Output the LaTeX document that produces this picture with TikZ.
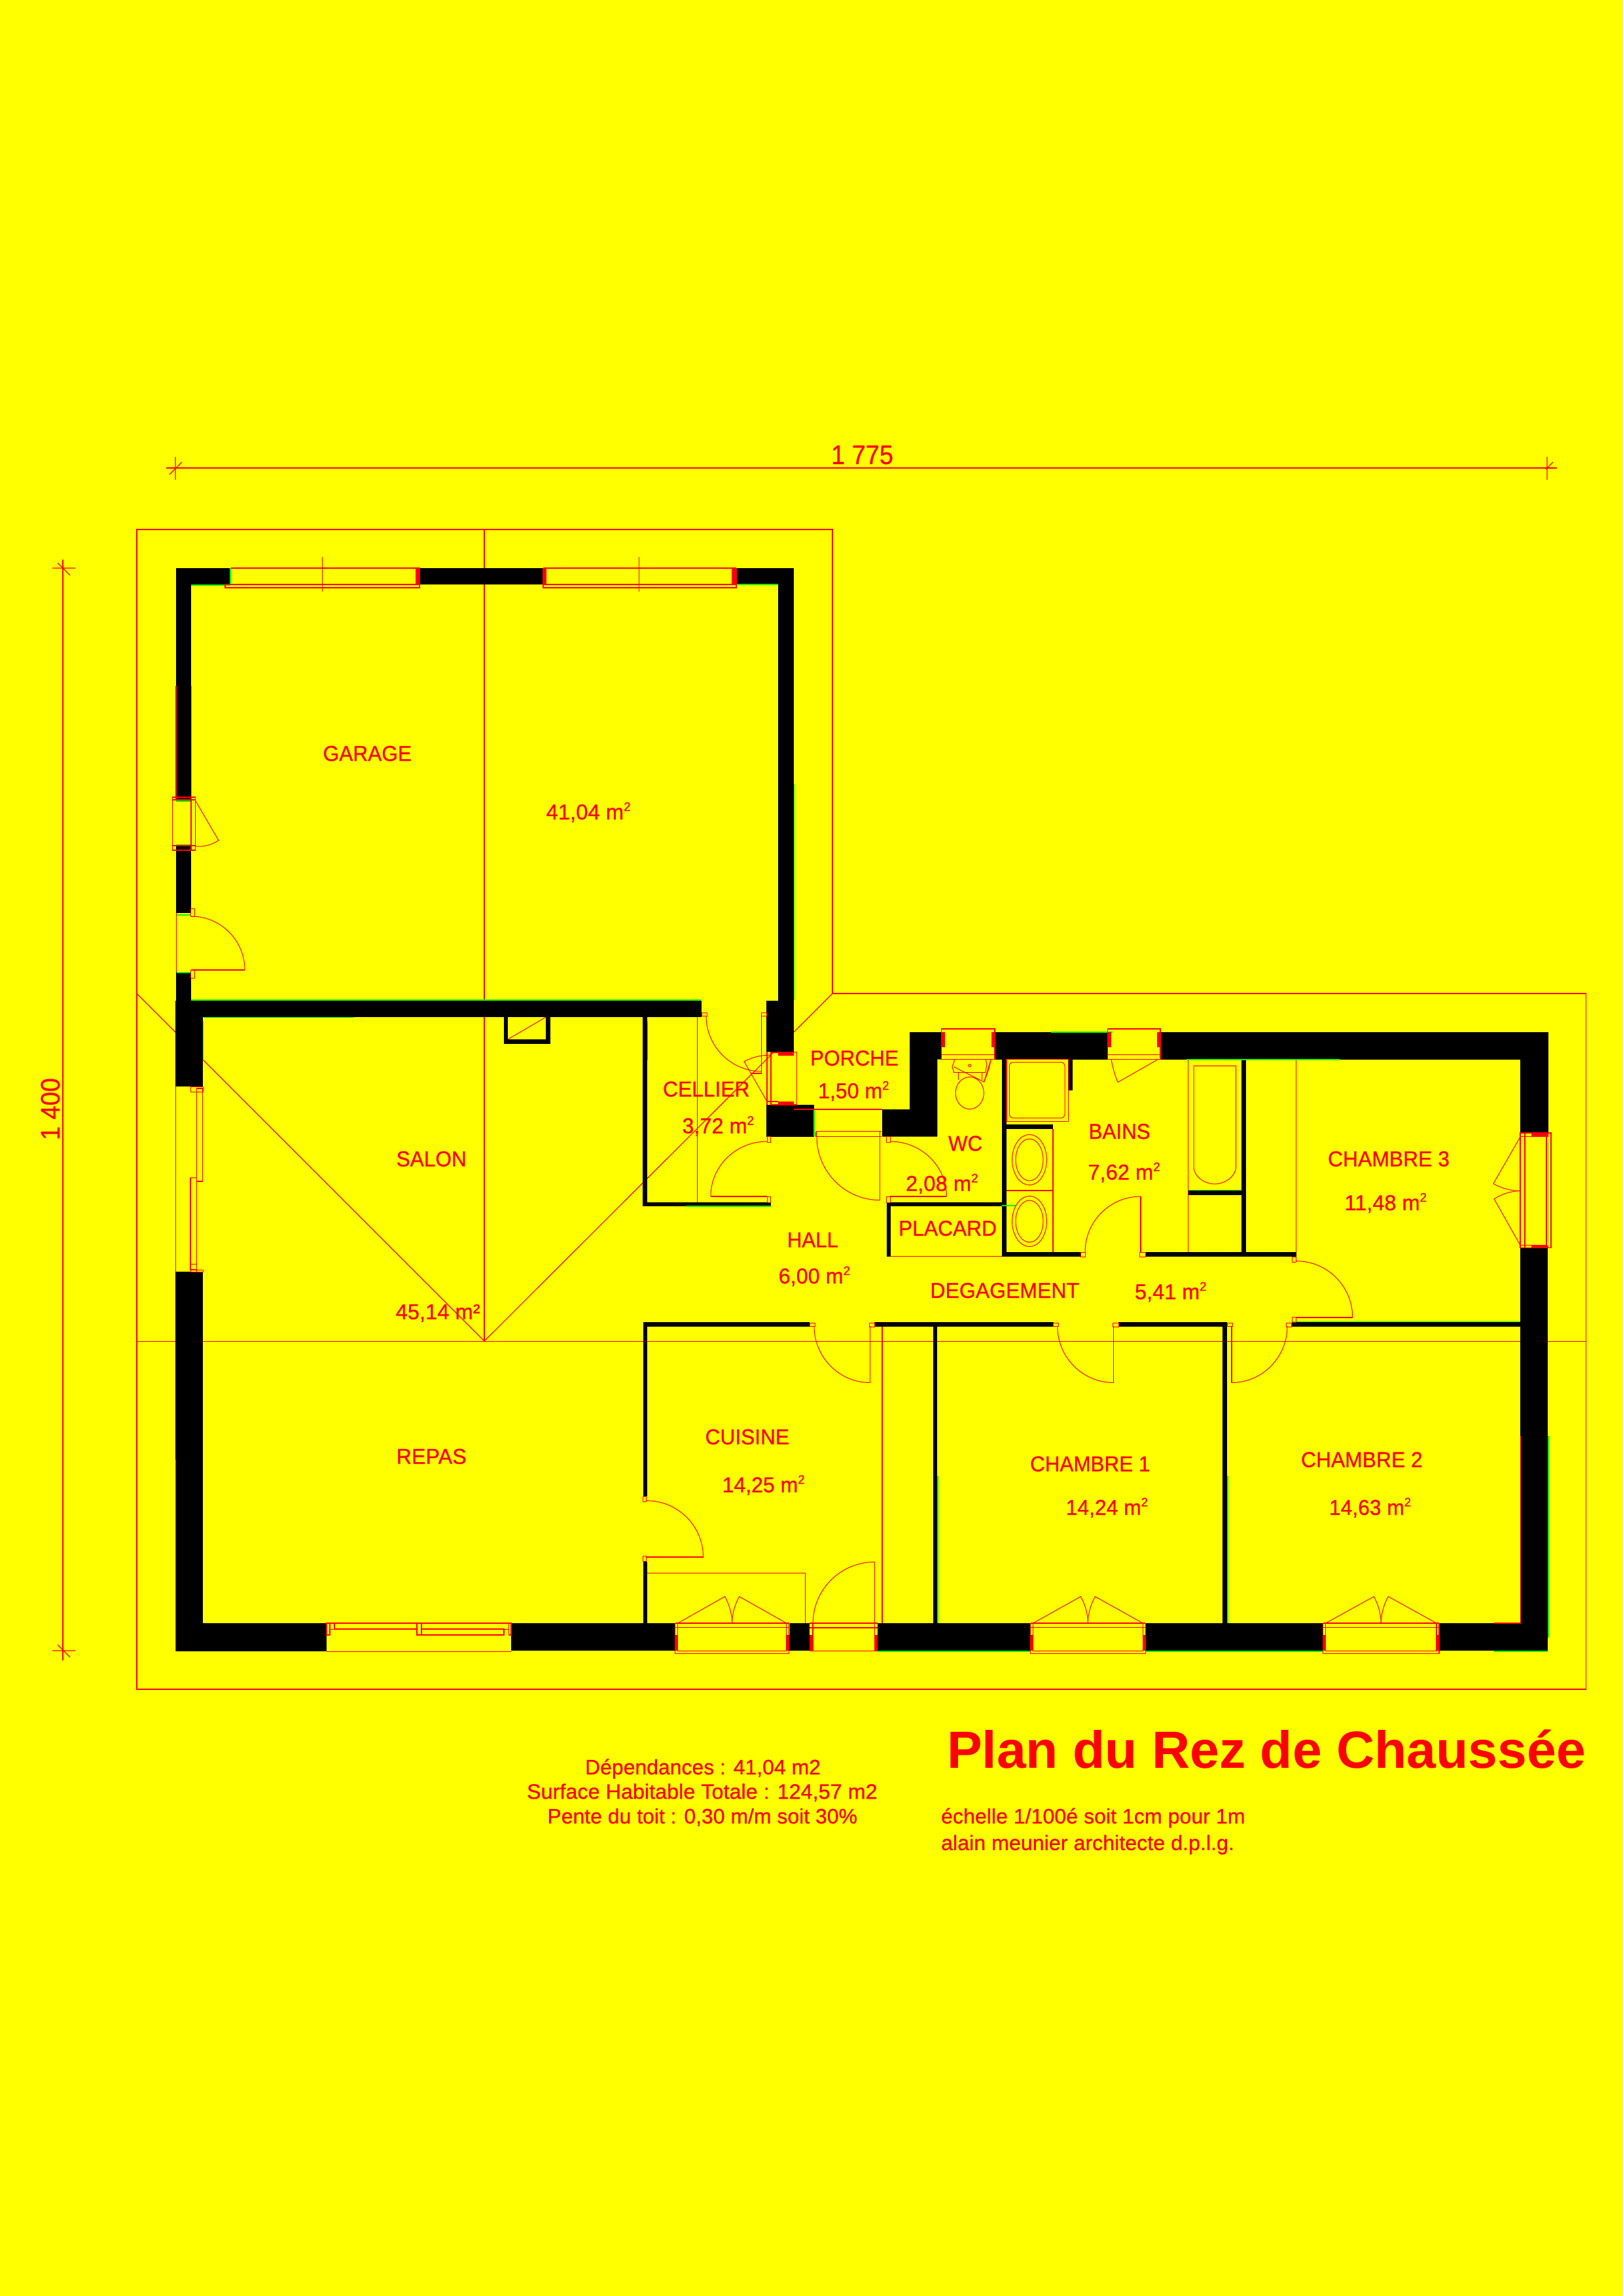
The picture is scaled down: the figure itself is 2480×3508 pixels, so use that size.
\documentclass[tikz,border=0pt]{standalone}
\usepackage{graphicx}
\usepackage{fontspec}
\setmainfont{Liberation Sans}[FakeBold=0.6,BoldFeatures={FakeBold=0}]
\definecolor{pagey}{rgb}{1,1,0}
\definecolor{cadred}{rgb}{1,0,0}
\definecolor{cadgreen}{rgb}{0,1,0}
\tikzset{
  ln/.style={draw=cadred,line width=1.15pt},
  hair/.style={draw=cadred,line width=1pt},
  grn/.style={draw=cadgreen,line width=1.6pt},
  wallfill/.style={fill=black,draw=none},
  redfill/.style={fill=cadred,draw=none},
  lbl/.style={anchor=base west,inner sep=0pt,outer sep=0pt,text=cadred},
}
% wall rectangle, red jamb, plain red rectangle
\newcommand\wl[4]{\fill[wallfill] (#1,#2) rectangle (#3,#4);}
\newcommand\rj[4]{\fill[redfill] (#1,#2) rectangle (#3,#4);}
\newcommand\rr[4]{\draw[ln] (#1,#2) rectangle (#3,#4);}
\newcommand\gl[4]{\draw[grn] (#1,#2) -- (#3,#4);}
% quarter circle: centre, start, end
\newcommand\qa[6]{\draw[hair] (#3,#4) .. controls ({#3+.5523*(#5-#1)},{#4+.5523*(#6-#2)}) and ({#5+.5523*(#3-#1)},{#6+.5523*(#4-#2)}) .. (#5,#6);}
% square-metre mark
\newcommand\msq{m\raisebox{13pt}{\fontsize{19}{19}\selectfont 2}}
% label: name, x left, x right, baseline, size, text
\newcommand\lab[6]{\pgfmathparse{#3-#2}\edef\labw{\pgfmathresult}%
  \node[lbl] (#1) at (#2,#4) {\resizebox{\labw pt}{\height}{\fontsize{#5}{#5}\selectfont #6}};}
% window in top wall of the house
\newcommand\winT[2]{%
  \rj{#1}{1577}{{#1+5.5}}{1600}\rj{{#2-5.5}}{1577}{#2}{1600}
  \rr{#1}{1572}{#2}{1618.6}
  \draw[ln] (#1,1611.4) -- (#2,1611.4);}
% double window in bottom wall of the house
\newcommand\winB[2]{%
  \pgfmathsetmacro\cw{(#1+#2)/2}%
  \rj{#1}{2498.3}{{#1+4.5}}{2522.4}\rj{{#2-4.5}}{2498.3}{#2}{2522.4}
  \rr{{#1+4}}{2480}{{#2-4}}{2522.4}
  \draw[ln] (#1,2480) -- (#2,2480) (#1,2486.4) -- (#2,2486.4);
  \draw[ln] (#1,2480) -- (#1,2526.6) -- (#2,2526.6) -- (#2,2480);
  \draw[hair] ({#1+4},2480) -- ({\cw-11},2439.3) .. controls ({\cw-5},2450) and (\cw,2465) .. (\cw,2480);
  \draw[hair] ({#2-4},2480) -- ({\cw+11},2439.3) .. controls ({\cw+5},2450) and (\cw,2465) .. (\cw,2480);}
% small door jamb
\newcommand\jb[4]{\draw[hair] (#1,#2) rectangle (#3,#4);}
\begin{document}
\begin{tikzpicture}[x=1pt,y=-1pt]
\useasboundingbox (0,0) rectangle (2480,3508);
\fill[pagey] (0,0) rectangle (2480,3508);

% roof outline and hips
\draw[ln] (209,809) -- (1272,809) -- (1272,1518) -- (2423.6,1518) -- (2423.6,2581) -- (209,2581) -- cycle;
\draw[ln] (740,809) -- (740,2049);
\draw[ln] (209,1518) -- (740,2049) -- (1272,1518);
\draw[hair] (209,2049) -- (2423.6,2049);

% dimensions
\draw[ln] (254,715) -- (2379,715);
\draw[ln] (268,698) -- (268,733) (259,725) -- (278,706);
\draw[ln] (2364,698) -- (2364,733) (2362,717) -- (2373,706);
\draw[ln] (96,855) -- (96,2537);
\draw[ln] (80,868) -- (115,868) (88,860) -- (107,879);
\draw[ln] (80,2522) -- (115,2522) (88,2513) -- (107,2532);

% cellier / counter / bath lines below the walls
\draw[ln] (1065.6,1554) -- (1065.6,1837);
\draw[ln] (1815.8,1618.6) -- (1815.8,1913);
\draw[ln] (1980.6,1618.6) -- (1980.6,1928);
\draw[ln] (1348,2026.8) -- (1348,2480);
\draw[ln] (988.8,2403.4) -- (1230.6,2403.4) -- (1230.6,2480);

% black walls
\wl{269}{868}{292}{1222}\wl{269}{1292}{292}{1395}\wl{269}{1485}{292}{1529}
\wl{269}{868}{352}{893}\wl{641.6}{868}{830}{893}\wl{1125}{868}{1213}{893}
\wl{1189}{868}{1213}{1529}
\wl{269}{1529}{1072}{1554}
\wl{268}{1529}{310}{1660}\wl{268}{1943}{310}{2523}
\wl{268}{2480}{499}{2523}\wl{781}{2480}{1032}{2522.4}\wl{1205.6}{2480}{1237}{2522.4}
\wl{1341.3}{2480}{1574.5}{2522.4}\wl{1750.2}{2480}{2021.5}{2522.4}\wl{2199}{2480}{2365}{2522.4}
\wl{2323}{1577}{2365.5}{1731}\wl{2323}{1907}{2365}{2522.4}
\wl{1520}{1577}{1692.7}{1618.6}\wl{1773}{1577}{2365.5}{1618.6}
\wl{1171}{1528.7}{1213}{1607}
\wl{1171}{1688}{1243.7}{1736.5}
\fill[wallfill] (1390,1577) -- (1438,1577) -- (1438,1618.6) -- (1432,1618.6) -- (1432,1736.5) -- (1348,1736.5) -- (1348,1695) -- (1390,1695) -- cycle;
\wl{770}{1554}{776}{1594.7}\wl{834}{1554}{841}{1594.7}\wl{770}{1588}{841}{1594.7}
\wl{982}{1554}{989}{1842.5}\wl{982}{1837}{1178}{1842.5}
\wl{982.6}{2020}{1237}{2026.8}\wl{982.6}{2020}{988.8}{2286}\wl{982.6}{2385.8}{988.8}{2480}
\wl{1336}{2020}{1609.7}{2026.8}\wl{1425.5}{2026.8}{1432}{2480}
\wl{1709}{2020}{1875}{2026.8}\wl{1868.4}{2020}{1875}{2480}
\wl{1973.7}{2020}{2323}{2026.6}
\wl{1354.5}{1837}{1531}{1842.5}\wl{1354.5}{1837}{1360.7}{1919.5}
\wl{1531}{1618.6}{1537.5}{1920}\wl{1531}{1913}{1651.5}{1920}\wl{1750}{1913}{1980.6}{1920}
\wl{1897}{1618.6}{1904}{1913}\wl{1815.8}{1819}{1897}{1826.4}
\wl{1632}{1618.6}{1639}{1665.7}\wl{1538}{1718}{1609}{1725}

% green slivers along the walls
\gl{292}{894}{352}{894}\gl{352}{868}{352}{893}\gl{1125}{893}{1189}{893}
\gl{292.5}{1048}{292.5}{1222}\gl{269}{1224}{292}{1224}\gl{269}{1291}{292}{1291}
\gl{270}{1398}{292}{1398}\gl{270}{1486}{292}{1486}\gl{1213.5}{1198}{1213.5}{1528}
\gl{292}{1528}{1071}{1528}\gl{311}{1554.5}{541}{1554.5}\gl{1432.5}{1620}{1432.5}{1736}
\gl{1243.8}{1695}{1243.8}{1736}\gl{1606}{1577}{1700}{1577}\gl{1813}{1618.9}{2048}{1618.9}
\gl{1975}{2019.6}{2323}{2019.6}\gl{2365.5}{1745}{2365.5}{1900}\gl{2365.7}{2194}{2365.7}{2502}
\gl{1876}{2255}{1876}{2480}\gl{1433}{2255}{1433}{2480}\gl{1341}{2523}{1575}{2523}
\gl{1750}{2522.8}{2021}{2522.8}\gl{2283}{2522.8}{2365}{2522.8}\gl{1206}{2480}{1206}{2498}
\gl{989.5}{1560}{989.5}{1620}\gl{1048}{1843}{1178}{1843}\gl{1552}{1842}{1531}{1842}
\gl{1815.8}{1818.6}{1897}{1818.6}\gl{310.5}{1560}{310.5}{1620}

% garage windows
\rj{634.6}{868}{641.6}{893}\rj{830}{868}{834.5}{893}\rj{1118}{868}{1125}{893}
\draw[ln] (352.6,868) -- (641.6,868) (352.6,893) -- (641.6,893);
\draw[ln] (830,868) -- (1125,868) (830,893) -- (1125,893) (830,868) -- (830,898) (1125,868) -- (1125,898);
\rr{344}{893}{641}{898}\rr{830}{893}{1125}{898}
\draw[hair] (492,851) -- (492,903.5) (976,851) -- (976,903.5);

% garage small door
\rr{263.5}{1218}{298.5}{1299}
\draw[ln] (292,1218) -- (292,1299) (263.5,1222) -- (298.5,1222) (263.5,1292) -- (298.5,1292);
\draw[hair] (299,1224) -- (334,1284) .. controls (323,1291) and (312,1294) .. (298.5,1293);
% garage big door
\draw[hair] (269,1395) -- (269,1485);
\jb{291.5}{1388}{297}{1400}\jb{291.5}{1482}{297}{1494}
\qa{292}{1482}{292}{1400}{374}{1482}
\draw[ln] (292,1482) -- (374,1482);

% salon bay
\draw[ln] (268.4,1660) -- (268.4,1943);
\rr{300.5}{1663}{309.7}{1805}\rr{291}{1799.5}{300.5}{1940}
\draw[hair] (291,1660) rectangle (310,1668) (291,1931) rectangle (300.5,1943) (291,1940) rectangle (310,1943);
% repas sliding window
\draw[ln] (499,2480) -- (781,2480);
\draw[hair] (499,2523) -- (781,2523);
\rr{511}{2480}{637}{2489}\rr{644}{2489}{770}{2498}
\rr{499}{2480}{504}{2498}\rr{637}{2480}{644}{2498}\rr{777.5}{2480}{781}{2498}
\draw[hair] (504,2489) -- (511,2489) (770,2489) -- (777.5,2489);
% chimney diagonal
\draw[hair] (776,1588) -- (834,1554);

% cellier door
\jb{1072}{1547.5}{1080}{1552}\jb{1163}{1547.5}{1171}{1552}
\qa{1164}{1552}{1079}{1552}{1164}{1637}
\draw[ln] (1163.4,1552) -- (1163.4,1640) -- (1147,1640);
% porche door and window
\rj{1189}{1607}{1213}{1612.5}\rj{1189}{1683}{1213}{1688}
\rr{1178}{1607.5}{1217.4}{1688}
\draw[ln] (1172,1607) -- (1172,1688) (1172,1683) -- (1189,1683) (1178,1608) -- (1193,1608);
\draw[hair] (1172,1683) -- (1137,1621.7) .. controls (1150,1615) and (1163,1612) .. (1178,1612);
% entry
\draw[ln] (1213,1695) -- (1348,1695) (1247,1728.5) -- (1347,1728.5) (1247,1736.5) -- (1347,1736.5);
\draw[ln] (1247,1728.5) -- (1247,1737) (1344.6,1728.5) -- (1344.6,1833.7);
\qa{1344.6}{1736.5}{1248}{1736.5}{1344.6}{1833.7}
% hall -> cellier door
\jb{1172}{1736.5}{1177.7}{1745}\jb{1172}{1828}{1177.7}{1837}
\qa{1172}{1828}{1172}{1744}{1086}{1828}
\draw[ln] (1086,1828) -- (1172,1828);
% hall -> wc door
\jb{1354.5}{1736.5}{1360}{1745}\jb{1354.5}{1828}{1360}{1837}
\qa{1360}{1828}{1360}{1744}{1446.4}{1828}
\draw[ln] (1360,1828) -- (1446.4,1828);
% placard
\draw[ln] (1360.7,1919.5) -- (1531,1919.5);

% top windows
\winT{1438.4}{1520}\winT{1692.7}{1773}
\draw[hair] (1514,1619) -- (1503.6,1653) -- (1457.6,1630);
\draw[hair] (1503.6,1653) .. controls (1508,1642) and (1512,1632) .. (1514,1619);
\draw[hair] (1768,1619.4) -- (1708,1653.5) .. controls (1703,1642) and (1700,1630) .. (1698,1618.6);

% wc
\draw[hair] (1459,1618.6) -- (1455,1630) -- (1457.6,1638.5) -- (1505.8,1638.5) -- (1508,1626) -- (1506,1618.6);
\draw[hair] (1464,1638.5) -- (1464,1650) (1500,1638.5) -- (1500,1650);
\draw[hair] (1481.7,1670) ellipse [x radius=21.6,y radius=24.5];
\draw[hair] (1481.7,1628) circle [radius=2];

% bains fixtures
\rr{1538}{1618.6}{1632.7}{1713.5}
\draw[hair,rounded corners=5pt] (1542.4,1623) rectangle (1627,1708);
\draw[ln] (1609,1725) -- (1609,1913) (1538,1819) -- (1609,1819);
\draw[hair] (1573,1772) ellipse [x radius=26.4,y radius=38.6];
\draw[hair] (1573,1772) ellipse [x radius=21,y radius=32];
\draw[hair] (1573,1866) ellipse [x radius=26.4,y radius=38.6];
\draw[hair] (1573,1866) ellipse [x radius=21,y radius=32];
\draw[hair] (1824,1783) -- (1824,1628.6) -- (1888.5,1628.6) -- (1888.5,1783) .. controls (1888.5,1797) and (1872,1809) .. (1856,1809) .. controls (1840,1809) and (1824,1797) .. (1824,1783);
% bains door
\jb{1651.5}{1913}{1658}{1920}\jb{1741}{1913}{1750}{1920}
\qa{1743}{1913}{1658}{1913}{1743}{1828}
\draw[ln] (1743,1828) -- (1743,1913);

% chambre 3 door and window
\jb{1974.5}{1920}{1980.6}{1928.6}\jb{1974.5}{2012}{1980.6}{2020}
\qa{1980.6}{2012.8}{1980.6}{1926.7}{2066.7}{2012.8}
\draw[line width=2.2pt,draw=cadred] (1980.6,2012.8) -- (2066.7,2012.8);
\rj{2340}{1731}{2365.5}{1736.5}\rj{2340}{1902.6}{2365.5}{1907}
\rr{2323}{1731}{2370}{1906.4}
\draw[ln] (2330,1731) -- (2330,1906.4) (2363,1731) -- (2363,1906.4) (2323,1736.5) -- (2363,1736.5) (2323,1902.6) -- (2363,1902.6);
\draw[hair] (2323,1737) -- (2281.8,1808.5) .. controls (2295,1816) and (2310,1819.5) .. (2323,1819.5);
\draw[hair] (2323,1902.6) -- (2283,1831.8) .. controls (2295,1824) and (2310,1819.5) .. (2323,1819.5);

% doors of the lower rooms
\jb{1237}{2021}{1245}{2026}\jb{1328.6}{2021}{1336}{2027}
\qa{1329.6}{2026}{1244}{2026}{1329.6}{2112.5}
\draw[ln] (1329.6,2026) -- (1329.6,2112.5);
\jb{1609.7}{2021}{1617.3}{2026}\jb{1700.5}{2021}{1709}{2027}
\qa{1701.5}{2026}{1615.8}{2026}{1701.5}{2112.5}
\draw[ln] (1701.5,2026) -- (1701.5,2112.5);
\jb{1875}{2021}{1883.7}{2026}\jb{1965.5}{2021}{1973.7}{2027}
\qa{1881.8}{2026}{1967}{2026}{1881.8}{2112.5}
\draw[line width=2pt,draw=cadred] (1881.8,2026) -- (1881.8,2112.5);
% cuisine door
\jb{982.6}{2286}{987.8}{2294.7}\jb{982.6}{2377.7}{987.8}{2385.8}
\qa{987.8}{2379}{987.8}{2292.8}{1074.5}{2379}
\draw[line width=2pt,draw=cadred] (987.8,2379) -- (1074.5,2379);
% cuisine outside door
\rj{1237}{2498.3}{1242}{2522.4}\rj{1336.7}{2498.3}{1341.3}{2522.4}
\draw[ln] (1237,2480) -- (1341.3,2480) (1237,2487) -- (1341.3,2487) (1237,2522.4) -- (1341.3,2522.4) (1242,2480) -- (1242,2522.4) (1336.7,2480) -- (1336.7,2522.4);
\qa{1336.7}{2480}{1242.3}{2480}{1336.7}{2386.5}
\draw[ln] (1336.7,2386.5) -- (1336.7,2480);

% bottom windows
\winB{1031.6}{1205.6}\winB{1574.5}{1750.2}\winB{2021.5}{2199}
% red edges on outer wall
\draw[ln] (2323.5,2194) -- (2323.5,2480) -- (2283,2480);
\draw[ln] (269,1048) -- (269,1222) (268.4,2230) -- (268.4,2523);

% labels
\lab{tgarage}{493.6}{629}{1162.6}{33}{GARAGE}
\lab{agarage}{834.5}{963.6}{1252}{33}{41,04 \msq}
\lab{tsalon}{605.6}{712.8}{1782}{33}{SALON}
\lab{asalon}{604.6}{733.7}{2015.6}{33}{45,14 m²}
\lab{trepas}{605.6}{712.8}{2236.6}{33}{REPAS}
\lab{tporche}{1238}{1373}{1628}{33}{PORCHE}
\lab{aporche}{1250}{1358.5}{1678}{33}{1,50 \msq}
\lab{tcellier}{1013}{1145.5}{1675.3}{33}{CELLIER}
\lab{acellier}{1042.4}{1152}{1731.5}{33}{3,72 \msq}
\lab{twc}{1449}{1501}{1758.3}{33}{WC}
\lab{awc}{1384}{1494.6}{1819.6}{33}{2,08 \msq}
\lab{tplacard}{1373}{1523}{1888}{33}{PLACARD}
\lab{thall}{1202.7}{1281}{1905.7}{33}{HALL}
\lab{ahall}{1189.7}{1299}{1961}{33}{6,00 \msq}
\lab{tdeg}{1421.4}{1649}{1983}{33}{DEGAGEMENT}
\lab{adeg}{1734}{1843.6}{1985}{33}{5,41 \msq}
\lab{tbains}{1663.6}{1757.6}{1740}{33}{BAINS}
\lab{abains}{1662.4}{1772.7}{1802.3}{33}{7,62 \msq}
\lab{tch3}{2029}{2215}{1782}{33}{CHAMBRE 3}
\lab{ach3}{2054.5}{2180}{1849}{33}{11,48 \msq}
\lab{tcuis}{1077.6}{1206}{2206.7}{33}{CUISINE}
\lab{acuis}{1103.6}{1229.6}{2280}{33}{14,25 \msq}
\lab{tch1}{1574}{1757.4}{2248}{33}{CHAMBRE 1}
\lab{ach1}{1628.6}{1754}{2314.6}{33}{14,24 \msq}
\lab{tch2}{1988}{2173.7}{2241.5}{33}{CHAMBRE 2}
\lab{ach2}{2031}{2156}{2314.6}{33}{14,63 \msq}
\lab{ttitle}{1447}{2423}{2701.7}{80}{\bfseries Plan du Rez de Chaussée}
\lab{tdep}{894}{1254}{2711}{32}{Dépendances : 41,04 m2}
\lab{tsurf}{805}{1340.7}{2748.3}{32}{Surface Habitable Totale : 124,57 m2}
\lab{tpente}{836.4}{1310}{2786}{32}{Pente du toit : 0,30 m/m soit 30\%}
\lab{tech}{1438}{1902.6}{2786}{32}{échelle 1/100é soit 1cm pour 1m}
\lab{tarch}{1438}{1886}{2826.7}{32}{alain meunier architecte d.p.l.g.}
\lab{dimh}{1270}{1365}{709}{41}{1 775}
\node[lbl,rotate=90] (dimv) at (91,1742) {\resizebox{95pt}{\height}{\fontsize{41}{41}\selectfont 1 400}};
\end{tikzpicture}
\end{document}
